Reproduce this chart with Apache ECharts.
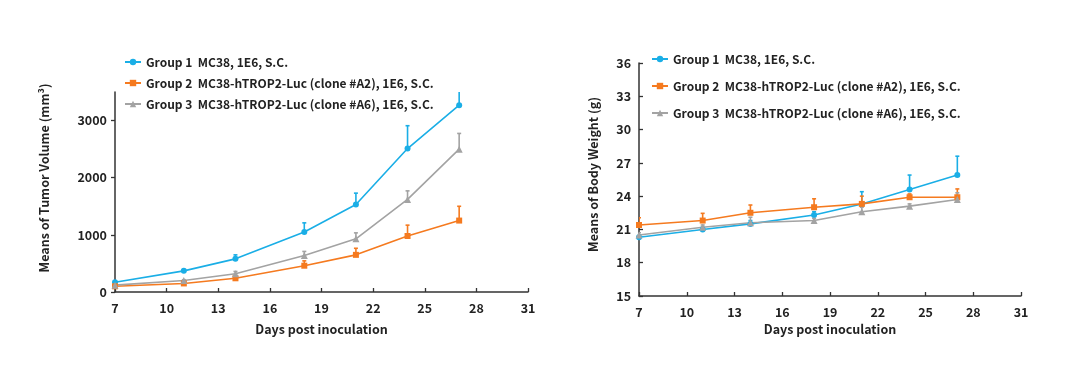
<!DOCTYPE html>
<html>
<head>
<meta charset="utf-8">
<script src="https://cdn.jsdelivr.net/npm/echarts@6/dist/echarts.min.js"></script>
<style>html,body{margin:0;padding:0;background:#fff}#c{width:1080px;height:385px}</style>
</head>
<body>
<div id="c"></div>
<script>
const days = [7, 11, 14, 18, 21, 24, 27];
const xTicks = [7, 10, 13, 16, 19, 22, 25, 28, 31];
const tumorTicks = [0, 1000, 2000, 3000];
const groupNames = [
  'Group 1  MC38, 1E6, S.C.',
  'Group 2  MC38-hTROP2-Luc (clone #A2), 1E6, S.C.',
  'Group 3  MC38-hTROP2-Luc (clone #A6), 1E6, S.C.'
];
const tumorG1 = [170, 370, 580, 1050, 1530, 2510, 3270];
const tumorG1Err = [15, 20, 70, 160, 200, 400, 300];
const tumorG2 = [100, 150, 240, 460, 650, 980, 1250];
const tumorG2Err = [10, 15, 20, 85, 115, 190, 250];
const tumorG3 = [120, 200, 320, 640, 930, 1620, 2500];
const tumorG3Err = [10, 15, 40, 70, 105, 150, 275];
const weightG1 = [20.3, 21.0, 21.5, 22.3, 23.3, 24.6, 25.9];
const weightG1Err = [0.2, 0.2, 0.3, 0.3, 1.1, 1.3, 1.7];
const weightG2 = [21.4, 21.8, 22.5, 23.0, 23.3, 23.9, 23.9];
const weightG2Err = [0.65, 0.65, 0.7, 0.76, 0.7, 0.3, 0.75];
const weightG3 = [20.5, 21.2, 21.6, 21.8, 22.6, 23.1, 23.7];
const weightG3Err = [0.2, 0.2, 0.5, 0.2, 0.4, 0.2, 0.6];

const colors = ['#1aaee6', '#f57a1f', '#a3a3a3'];
const symbols = ['circle', 'rect', 'triangle'];
const symbolSizes = [6, 6, 7];
const FONT = '"Noto Sans CJK SC", "Noto Sans", sans-serif';
const TXT = '#222';

function pairs(vals) { return days.map((d, i) => [d, vals[i]]); }
function errData(vals, errs) { return days.map((d, i) => [d, vals[i], errs[i]]); }

function lineSeries(idx, vals, gi) {
  return {
    type: 'line', name: groupNames[idx], xAxisIndex: gi, yAxisIndex: gi,
    data: pairs(vals), color: colors[idx],
    symbol: symbols[idx], symbolSize: symbolSizes[idx],
    lineStyle: { width: 1.6, color: colors[idx] },
    itemStyle: { color: colors[idx] },
    z: 3
  };
}
function errSeries(idx, vals, errs, gi) {
  return {
    type: 'custom', name: 'err' + gi + idx, xAxisIndex: gi, yAxisIndex: gi,
    data: errData(vals, errs), clip: true, z: 2,
    renderItem: function (params, api) {
      const x = api.value(0), y = api.value(1), e = api.value(2);
      const p0 = api.coord([x, y]);
      const p1 = api.coord([x, y + e]);
      const st = { stroke: colors[idx], lineWidth: 1.6 };
      return {
        type: 'group',
        children: [
          { type: 'line', shape: { x1: p0[0], y1: p0[1], x2: p1[0], y2: p1[1] }, style: st },
          { type: 'line', shape: { x1: p1[0] - 2, y1: p1[1], x2: p1[0] + 2, y2: p1[1] }, style: st }
        ]
      };
    }
  };
}

function xAxis(gi, nameGap, margin, tickInside) {
  return {
    type: 'value', gridIndex: gi, min: 7, max: 31,
    name: 'Days post inoculation', nameLocation: 'middle', nameGap: nameGap,
    nameTextStyle: { fontFamily: FONT, fontWeight: 'bold', fontSize: 12.5, color: TXT },
    axisLine: { show: true, lineStyle: { color: '#333', width: 1.5 } },
    axisTick: { show: true, inside: tickInside, length: 4, customValues: xTicks, lineStyle: { color: '#333', width: 1.3 } },
    axisLabel: { customValues: xTicks, margin: margin, fontFamily: FONT, fontWeight: 'bold', fontSize: 12.5, color: TXT },
    splitLine: { show: false }
  };
}

const legendText = { fontFamily: FONT, fontWeight: 'bold', fontSize: 12, color: TXT };

const option = {
  animation: false,
  backgroundColor: '#fff',
  grid: [
    { left: 115, top: 92, right: 552, bottom: 93 },
    { left: 639, top: 63, right: 59, bottom: 89 }
  ],
  legend: [
    {
      orient: 'vertical', left: 119, top: 51, itemWidth: 16, itemHeight: 8, itemGap: 9,
      data: groupNames, selectedMode: false, textStyle: legendText
    },
    {
      orient: 'vertical', left: 646, top: 48, itemWidth: 16, itemHeight: 8, itemGap: 15,
      data: groupNames, selectedMode: false, textStyle: legendText
    }
  ],
  xAxis: [xAxis(0, 31, 10, true), xAxis(1, 27, 10, true)],
  yAxis: [
    {
      type: 'value', gridIndex: 0, min: 0, max: 3500,
      name: 'Means of Tumor Volume (mm³)', nameLocation: 'middle', nameGap: 64,
      nameTextStyle: { fontFamily: FONT, fontWeight: 'bold', fontSize: 12.5, color: TXT, padding: [0, 0, 0, 28] },
      axisLine: { show: true, lineStyle: { color: '#333', width: 1.5 } },
      axisTick: { show: true, inside: false, length: 4, customValues: tumorTicks, lineStyle: { color: '#333', width: 1.3 } },
      axisLabel: { customValues: tumorTicks, formatter: function (v) { return String(v); }, margin: 8, fontFamily: FONT, fontWeight: 'bold', fontSize: 12.5, color: TXT },
      splitLine: { show: false }
    },
    {
      type: 'value', gridIndex: 1, min: 15, max: 36, interval: 3,
      name: 'Means of Body Weight (g)', nameLocation: 'middle', nameGap: 40,
      nameTextStyle: { fontFamily: FONT, fontWeight: 'bold', fontSize: 12.5, color: TXT, padding: [0, 0, 0, 10] },
      axisLine: { show: true, lineStyle: { color: '#333', width: 1.5 } },
      axisTick: { show: true, inside: true, length: 4, lineStyle: { color: '#333', width: 1.3 } },
      axisLabel: { margin: 8, fontFamily: FONT, fontWeight: 'bold', fontSize: 12.5, color: TXT },
      splitLine: { show: false }
    }
  ],
  series: [
    errSeries(0, tumorG1, tumorG1Err, 0),
    errSeries(1, tumorG2, tumorG2Err, 0),
    errSeries(2, tumorG3, tumorG3Err, 0),
    lineSeries(0, tumorG1, 0),
    lineSeries(1, tumorG2, 0),
    lineSeries(2, tumorG3, 0),
    errSeries(0, weightG1, weightG1Err, 1),
    errSeries(1, weightG2, weightG2Err, 1),
    errSeries(2, weightG3, weightG3Err, 1),
    lineSeries(0, weightG1, 1),
    lineSeries(1, weightG2, 1),
    lineSeries(2, weightG3, 1)
  ]
};
const chart = echarts.init(document.getElementById('c'), null, { renderer: 'canvas' });
chart.setOption(option);
</script>
</body>
</html>
